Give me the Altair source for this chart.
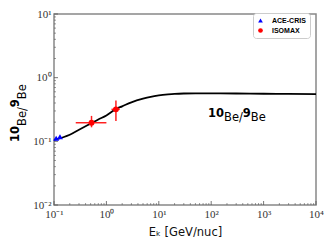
import altair as alt
import pandas as pd

# ---- data ----
curve_E = [0.1, 0.15, 0.2, 0.3, 0.5, 0.7, 1.0, 1.5, 2, 3, 5, 7, 10, 15, 20, 30, 50, 100, 300, 1000, 3000, 10000]
curve_R = [0.105, 0.116, 0.127, 0.152, 0.19, 0.22, 0.255, 0.32, 0.355, 0.41, 0.468, 0.50, 0.525, 0.545, 0.556, 0.564, 0.567, 0.567, 0.564, 0.559, 0.556, 0.553]

ace_E = [0.11, 0.13]
ace_R = [0.112, 0.118]

iso_E = [0.52, 1.52]
iso_R = [0.196, 0.318]
iso_Elo = [0.26, 1.25]
iso_Ehi = [1.0, 1.8]
iso_Rlo = [0.166, 0.208]
iso_Rhi = [0.251, 0.437]

x_ticks = [0.1, 1, 10, 100, 1000, 10000]
x_tick_labels = ["10⁻¹", "10⁰", "10¹", "10²", "10³", "10⁴"]
y_ticks = [0.01, 0.1, 1, 10]
y_tick_labels = ["10⁻²", "10⁻¹", "10⁰", "10¹"]

x_minor = [m * 10.0 ** k for k in range(-1, 4) for m in range(2, 10)]
y_minor = [m * 10.0 ** k for k in range(-2, 1) for m in range(2, 10)]

W, H = 262, 191

def label_expr(vals, labels):
    expr = "''"
    for v, l in zip(vals, labels):
        expr = f"abs(datum.value - {v}) < {v}*0.01 ? '{l}' : ({expr})"
    return expr

xscale = alt.Scale(type="log", domain=[0.1, 10000], nice=False)
yscale = alt.Scale(type="log", domain=[0.01, 10], nice=False)

xaxis = alt.Axis(values=x_ticks, labelExpr=label_expr(x_ticks, x_tick_labels), ticks=False, domain=False,
                 grid=False, title="Eₖ [GeV/nuc]", labelFont="Liberation Serif", labelFontSize=11,
                 labelColor="#333", labelPadding=3, titleFont="DejaVu Sans", titleFontWeight="normal",
                 titleFontSize=11.5, titleColor="#111", titlePadding=7, labelFlush=False)
yaxis = alt.Axis(values=y_ticks, labelExpr=label_expr(y_ticks, y_tick_labels), ticks=False, domain=False,
                 grid=False, title=None, labelFont="Liberation Serif", labelFontSize=11,
                 labelColor="#333", labelPadding=3, labelFlush=False)

curve_df = pd.DataFrame({"E": curve_E, "R": curve_R})
pts_df = pd.DataFrame({
    "E": ace_E + iso_E,
    "R": ace_R + iso_R,
    "exp": ["ACE-CRIS"] * len(ace_E) + ["ISOMAX"] * len(iso_E),
})
err_df = pd.DataFrame({"E": iso_E, "R": iso_R, "Elo": iso_Elo, "Ehi": iso_Ehi, "Rlo": iso_Rlo, "Rhi": iso_Rhi})

X = lambda f: alt.X(f"{f}:Q", scale=xscale, axis=xaxis)
Y = lambda f: alt.Y(f"{f}:Q", scale=yscale, axis=yaxis)

line = alt.Chart(curve_df).mark_line(color="black", strokeWidth=1.8, interpolate="monotone").encode(x=X("E"), y=Y("R"))

errx = alt.Chart(err_df).mark_rule(color="#ff2020", strokeWidth=1.5).encode(x=X("Elo"), x2="Ehi", y=Y("R"))
erry = alt.Chart(err_df).mark_rule(color="#ff2020", strokeWidth=1.5).encode(x=X("E"), y=Y("Rlo"), y2="Rhi")

leg = alt.Legend(title=None, orient="none", legendX=199, legendY=-1)
points = alt.Chart(pts_df).mark_point(filled=True, opacity=1, size=35).encode(
    x=X("E"), y=Y("R"),
    color=alt.Color("exp:N", scale=alt.Scale(domain=["ACE-CRIS", "ISOMAX"], range=["#0000ff", "#ff0000"]), legend=leg),
    shape=alt.Shape("exp:N", scale=alt.Scale(domain=["ACE-CRIS", "ISOMAX"], range=["triangle-up", "circle"]), legend=leg),
)

xmaj_df = pd.DataFrame({"v": x_ticks})
xmin_df = pd.DataFrame({"v": x_minor})
ymaj_df = pd.DataFrame({"v": y_ticks})
ymin_df = pd.DataFrame({"v": y_minor})
tick_color = "#555"
xt_maj = alt.Chart(xmaj_df).mark_rule(color=tick_color, strokeWidth=0.8).encode(x=X("v"), y=alt.value(H), y2=alt.value(H - 4))
xt_min = alt.Chart(xmin_df).mark_rule(color=tick_color, strokeWidth=0.6).encode(x=X("v"), y=alt.value(H), y2=alt.value(H - 2))
yt_maj = alt.Chart(ymaj_df).mark_rule(color=tick_color, strokeWidth=0.8).encode(y=Y("v"), x=alt.value(0), x2=alt.value(4))
yt_min = alt.Chart(ymin_df).mark_rule(color=tick_color, strokeWidth=0.6).encode(y=Y("v"), x=alt.value(0), x2=alt.value(2))

one = pd.DataFrame({"a": [0]})

def txt(s, x, y, size, bold=False, angle=0):
    kw = dict(align="left", baseline="alphabetic", font="DejaVu Sans", fontSize=size,
              fontWeight="bold" if bold else "normal", color="black")
    if angle:
        kw["angle"] = angle
    return alt.Chart(one).mark_text(**kw).encode(x=alt.value(x), y=alt.value(y), text=alt.value(s))

S = 11.5
# in-plot label
lab = [
    txt("10", 154, 103, S, True),
    txt("Be/", 170, 107, S),
    txt("9", 188.8, 103, S, True),
    txt("Be", 196.8, 107, S),
]
# y-axis title (rotated)
yt = [
    txt("10", -35, 128, S, True, 270),
    txt("Be/", -28, 112, S, False, 270),
    txt("9", -35, 93.2, S, True, 270),
    txt("Be", -28, 85.2, S, False, 270),
]

chart = alt.layer(xt_min, xt_maj, yt_min, yt_maj, line, errx, erry, points, *lab, *yt).properties(
    width=W, height=H,
    autosize=alt.AutoSizeParams(type="none"),
    padding={"left": 46, "top": 6, "right": 8, "bottom": 32},
).configure_view(stroke="#888", strokeWidth=1.5).configure_legend(
    strokeColor="#ccc", cornerRadius=3, fillColor="white", padding=4, labelFont="Liberation Sans",
    labelFontWeight="bold", labelFontSize=7, symbolSize=22, rowPadding=2, labelOffset=8,
)

chart.save("out.html", embed_options={"renderer": "svg", "actions": False})
